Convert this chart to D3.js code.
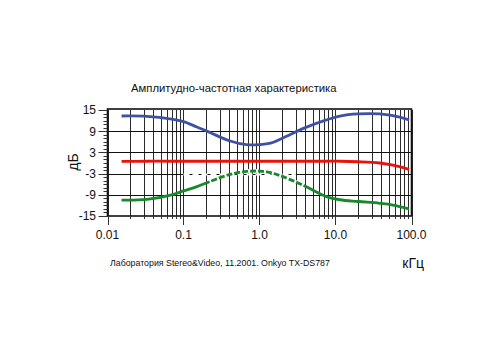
<!DOCTYPE html>
<html>
<head>
<meta charset="utf-8">
<script src="https://cdn.jsdelivr.net/npm/d3@7"></script>
<style>
  html, body { margin: 0; padding: 0; background: #fff; }
  svg text { font-family: "Liberation Sans", Arial, sans-serif; fill: #111; }
</style>
</head>
<body>
<svg id="chart" width="500" height="350"></svg>
<script>
// Frequency points (kHz) and responses (dB)
const freq   = [0.0153, 0.033, 0.07, 0.1, 0.15, 0.22, 0.4, 0.67, 1.0, 1.4, 2.0, 4.0, 7.6, 11.4, 20, 38, 57, 93];
const blueDb = [13.3, 13.2, 12.4, 11.7, 10.2, 8.7, 6.3, 5.2, 5.2, 5.6, 7.0, 10.0, 12.2, 13.3, 13.9, 13.9, 13.4, 12.2];
const redDb  = [0.45, 0.5, 0.5, 0.5, 0.5, 0.5, 0.5, 0.5, 0.5, 0.5, 0.5, 0.5, 0.5, 0.5, 0.35, 0.0, -0.6, -1.8];
const greenDb = [-10.5, -10.3, -9.0, -7.9, -6.7, -5.3, -3.3, -2.4, -2.3, -2.7, -3.8, -6.6, -9.5, -10.4, -10.9, -11.4, -11.9, -13.0];

const xTickValues = [0.01, 0.1, 1, 10, 100];
const xTickLabels = ["0.01", "0.1", "1.0", "10.0", "100.0"];
const yTickValues = [15, 9, 3, -3, -9, -15];

const title = "Амплитудно-частотная характеристика";
const yTitle = "дБ";
const xTitle = "кГц";
const footer = "Лаборатория Stereo&Video, 11.2001. Onkyo TX-DS787";

const svg = d3.select("#chart");
const plotL = 107.5, plotR = 411.5, plotT = 110, plotB = 216;

const x = d3.scaleLog().domain([0.01, 100]).range([plotL, plotR]);
const y = d3.scaleLinear().domain([-15, 15]).range([plotB, plotT]);

// Vertical log grid: 1..9 in every decade
const minorFreqs = [];
for (let e = -2; e < 2; e++) {
  for (let m = 1; m <= 9; m++) minorFreqs.push(m * Math.pow(10, e));
}
minorFreqs.push(100);
const isDecade = d => xTickValues.some(v => Math.abs(v - d) / v < 1e-9);

const grid = svg.append("g");
grid.selectAll("line.v").data(minorFreqs).join("line")
  .attr("x1", d => Math.round(x(d)) + 0.5).attr("x2", d => Math.round(x(d)) + 0.5)
  .attr("y1", plotT).attr("y2", plotB)
  .attr("stroke", "#2a2a2a").attr("stroke-width", 1);
grid.selectAll("line.h").data([9, 3, -3, -9]).join("line")
  .attr("x1", plotL).attr("x2", plotR)
  .attr("y1", d => Math.round(y(d)) + 0.5).attr("y2", d => Math.round(y(d)) + 0.5)
  .attr("stroke", "#111").attr("stroke-width", 1);

// Broken stretch of the -3 dB grid line
svg.append("line")
  .attr("x1", x(0.1)).attr("x2", x(3))
  .attr("y1", Math.round(y(-3)) + 0.5).attr("y2", Math.round(y(-3)) + 0.5)
  .attr("stroke", "#fff").attr("stroke-width", 2)
  .attr("stroke-dasharray", "6,3");

// Frame
svg.append("rect")
  .attr("x", plotL).attr("y", plotT - 1).attr("width", plotR - plotL).attr("height", plotB - plotT + 1)
  .attr("fill", "none").attr("stroke", "#111").attr("stroke-width", 1.6);

// Left axis: major and 1 dB minor ticks
const yMinor = d3.range(-15, 16, 1);
svg.selectAll("line.ym").data(yMinor).join("line")
  .attr("x1", d => yTickValues.includes(d) ? plotL - 9 : plotL - 4)
  .attr("x2", plotL)
  .attr("y1", d => Math.round(y(d)) + 0.5).attr("y2", d => Math.round(y(d)) + 0.5)
  .attr("stroke", "#333").attr("stroke-width", 1);
svg.selectAll("text.yt").data(yTickValues).join("text")
  .attr("x", 96).attr("y", d => y(d))
  .attr("dy", "0.36em").attr("text-anchor", "end")
  .attr("font-size", 12).text(d => d);

// Bottom axis ticks
svg.selectAll("line.xm").data(minorFreqs).join("line")
  .attr("x1", d => Math.round(x(d)) + 0.5).attr("x2", d => Math.round(x(d)) + 0.5)
  .attr("y1", plotB)
  .attr("y2", d => isDecade(d) ? plotB + 9 : plotB + 3)
  .attr("stroke", "#333").attr("stroke-width", 1);
svg.selectAll("text.xt").data(xTickValues).join("text")
  .attr("x", d => x(d)).attr("y", 235)
  .attr("dy", "0.36em").attr("text-anchor", "middle")
  .attr("font-size", 12).text((d, i) => xTickLabels[i]);

// Titles
svg.append("text").attr("x", 131).attr("y", 92)
  .attr("font-size", 11.3).text(title);
svg.append("text")
  .attr("transform", "translate(73,162) rotate(-90)")
  .attr("text-anchor", "middle").attr("dy", "0.36em")
  .attr("font-size", 14).text(yTitle);
svg.append("text").attr("x", 424).attr("y", 268)
  .attr("text-anchor", "end").attr("font-size", 14).text(xTitle);
svg.append("text").attr("x", 110).attr("y", 266)
  .attr("font-size", 8.8).text(footer);

// Response curves
const line = d3.line()
  .x(d => x(d[0])).y(d => y(d[1]))
  .curve(d3.curveCatmullRom.alpha(0.5));
const pts = vals => freq.map((f, i) => [f, vals[i]]);

const curves = svg.append("g").attr("fill", "none").attr("stroke-width", 2.8).attr("stroke-linecap", "butt");
curves.append("path").attr("d", line(pts(redDb))).attr("stroke", "#e8140c");
curves.append("path").attr("d", line(pts(blueDb))).attr("stroke", "#3f51a3");
curves.append("path").attr("d", line(pts(greenDb))).attr("stroke", "#17892a");

// Dashed middle stretch of the green curve
const greenMid = pts(greenDb).filter(d => d[0] >= 0.22 && d[0] <= 4);
curves.append("path").attr("d", line(greenMid))
  .attr("stroke", "#fff").attr("stroke-width", 4)
  .attr("stroke-dasharray", "2,6");
</script>
</body>
</html>
